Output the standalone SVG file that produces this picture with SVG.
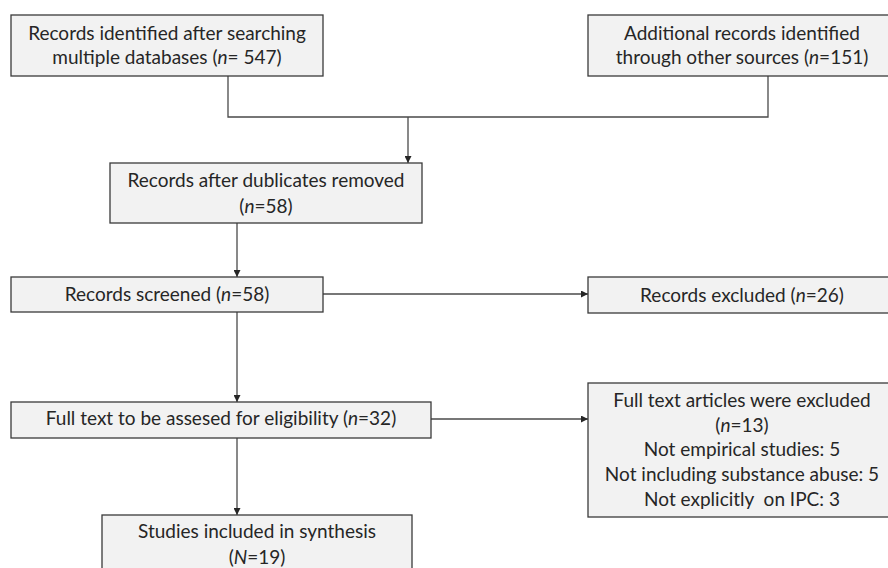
<svg xmlns="http://www.w3.org/2000/svg" width="888" height="568" viewBox="0 0 888 568">
<defs>
<marker id="arr" viewBox="0 0 10 10" refX="10" refY="5" markerWidth="7" markerHeight="7" markerUnits="userSpaceOnUse" orient="auto">
<path d="M0,0 L10,5 L0,10 z" fill="#262626"/>
</marker>
<style>
.box{fill:#f2f2f2;stroke:#3a3a3a;stroke-width:1.3}
.t{font-family:Lato,"Liberation Sans",sans-serif;font-size:19px;fill:#262626;text-anchor:middle}
.c{fill:none;stroke:#4a4a4a;stroke-width:1.3}
.a{fill:none;stroke:#4a4a4a;stroke-width:1.3;marker-end:url(#arr)}
</style>
</defs>
<rect width="888" height="568" fill="#ffffff"/>
<g id="connectors">
<polyline class="c" points="228,76 228,117 768,117 768,76"/>
<line class="a" x1="408" y1="117" x2="408" y2="163"/>
<line class="a" x1="237" y1="223" x2="237" y2="277"/>
<line class="a" x1="237" y1="312" x2="237" y2="402"/>
<line class="a" x1="237" y1="438" x2="237" y2="515"/>
<line class="a" x1="323" y1="294" x2="588" y2="294"/>
<line class="a" x1="431" y1="419" x2="588" y2="419"/>
</g>
<g id="n1">
<rect class="box" x="11" y="15" width="312" height="61"/>
<text class="t" x="167" y="40">Records identified after searching</text>
<text class="t" x="167" y="64">multiple databases (<tspan font-style="italic">n</tspan>= 547)</text>
</g>
<g id="n2">
<rect class="box" x="588" y="15" width="310" height="61"/>
<text class="t" x="742" y="40">Additional records identified</text>
<text class="t" x="742" y="64">through other sources (<tspan font-style="italic">n</tspan>=151)</text>
</g>
<g id="n3">
<rect class="box" x="110" y="163" width="312" height="60"/>
<text class="t" x="266" y="187">Records after dublicates removed</text>
<text class="t" x="266" y="213">(<tspan font-style="italic">n</tspan>=58)</text>
</g>
<g id="n4">
<rect class="box" x="11" y="277" width="312" height="35"/>
<text class="t" x="167" y="301">Records screened (<tspan font-style="italic">n</tspan>=58)</text>
</g>
<g id="n5">
<rect class="box" x="588" y="277" width="310" height="36"/>
<text class="t" x="742" y="302">Records excluded (<tspan font-style="italic">n</tspan>=26)</text>
</g>
<g id="n6">
<rect class="box" x="11" y="402" width="420" height="36"/>
<text class="t" x="221" y="425">Full text to be assesed for eligibility (<tspan font-style="italic">n</tspan>=32)</text>
</g>
<g id="n7">
<rect class="box" x="588" y="383" width="310" height="134"/>
<text class="t" x="742" y="407">Full text articles were excluded</text>
<text class="t" x="742" y="432">(<tspan font-style="italic">n</tspan>=13)</text>
<text class="t" x="742" y="456">Not empirical studies: 5</text>
<text class="t" x="742" y="481">Not including substance abuse: 5</text>
<text class="t" x="742" y="506">Not explicitly&#160; on IPC: 3</text>
</g>
<g id="n8">
<rect class="box" x="102" y="515" width="310" height="60"/>
<text class="t" x="257" y="538">Studies included in synthesis</text>
<text class="t" x="257" y="564">(<tspan font-style="italic">N</tspan>=19)</text>
</g>
</svg>
